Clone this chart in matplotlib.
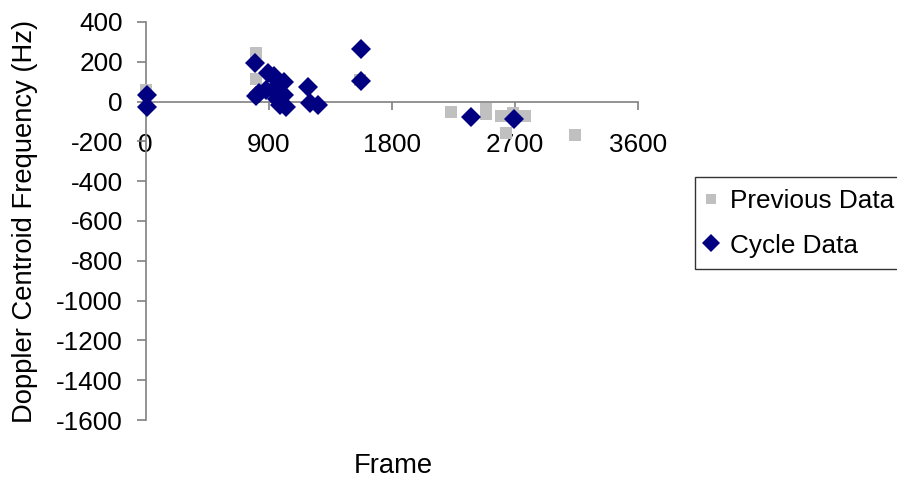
import matplotlib.pyplot as plt

plt.rcParams['font.family'] = ['Liberation Sans', 'DejaVu Sans']
plt.rcParams['axes.unicode_minus'] = False

# Previous Data (gray squares)
prev_frame = [0, 810, 810, 1570, 2237, 2488, 2488, 2602, 2687, 2778, 2639, 3138]
prev_val = [60, 246, 115, 110, -51, -35, -64, -71, -59, -71, -160, -169]

# Cycle Data (navy diamonds)
cycle_frame = [7, 7, 800, 806, 830, 880, 896, 940, 960, 1010, 935, 960, 985,
               1010, 1030, 1190, 1205, 1262, 1575, 1575, 2383, 2694]
cycle_val = [34, -28, 195, 30, 45, 60, 145, 130, 110, 100, 60, 15, -15,
             35, -25, 75, -8, -15, 262, 102, -79, -88]

yticks = list(range(-1600, 401, 200))
xticks = [0, 900, 1800, 2700, 3600]

fs = 18.8
fs_label = 19.7

fig = plt.figure(figsize=(8.97, 4.79), dpi=100)
ax = fig.add_axes([145.7 / 897, 1 - 420 / 479, 492 / 897, 398 / 479])

ax.plot(prev_frame, prev_val, linestyle='none', marker='s', markersize=8.8,
        color='#C0C0C0', markeredgewidth=0, label='Previous Data',
        clip_on=False, zorder=3)
ax.plot(cycle_frame, cycle_val, linestyle='none', marker='D', markersize=10.5,
        color='#000080', markeredgewidth=0, label='Cycle Data',
        clip_on=False, zorder=4)

ax.set_xlim(0, 3600)
ax.set_ylim(-1600, 400)
ax.set_xticks(xticks)
ax.set_yticks(yticks)

for s in ['top', 'right']:
    ax.spines[s].set_visible(False)
ax.spines['bottom'].set_position(('data', 0))
for s in ['bottom', 'left']:
    ax.spines[s].set_color('#808080')
    ax.spines[s].set_linewidth(1.2)
ax.tick_params(axis='both', direction='out', width=1.2,
               color='#808080', labelsize=fs, labelcolor='black')
ax.tick_params(axis='y', length=6.5, pad=10)
ax.tick_params(axis='x', length=5.8, pad=16.9)

fig.text(393 / 897, 1 - 466 / 479, 'Frame', ha='center', va='center', fontsize=fs_label)
fig.text(25 / 897, 1 - 221 / 479, 'Doppler Centroid Frequency (Hz)', ha='center',
         va='center', rotation=90, fontsize=fs_label)

leg = fig.legend(loc='upper left', bbox_to_anchor=(695 / 897, 1 - 177 / 479),
                 fontsize=fs, frameon=True, fancybox=False, markerscale=0.85,
                 handletextpad=0.6, handlelength=0.3, borderpad=0.45,
                 labelspacing=0.8, borderaxespad=0)
leg.get_frame().set_edgecolor('black')
leg.get_frame().set_linewidth(1.0)

fig.savefig('out.png', dpi=100)
